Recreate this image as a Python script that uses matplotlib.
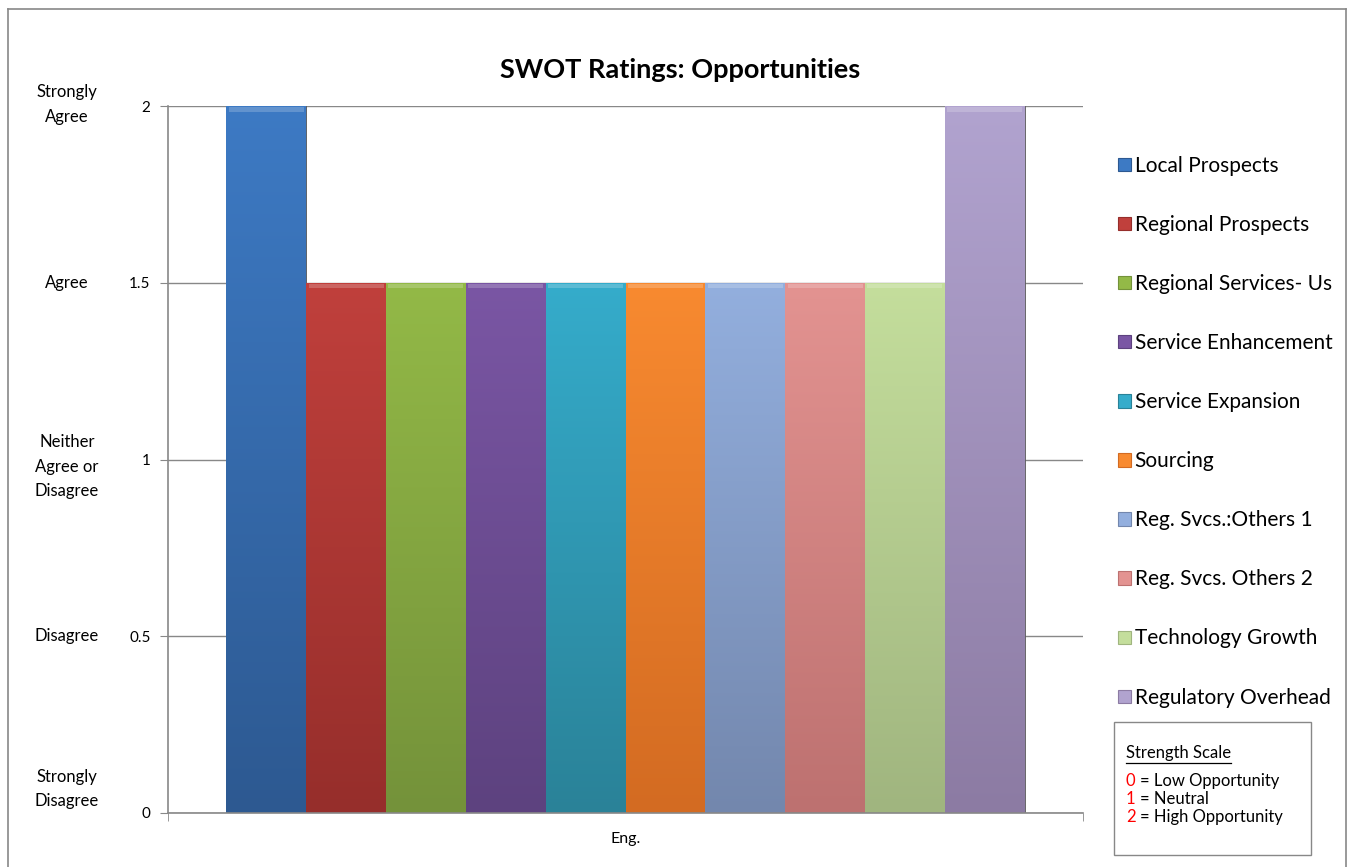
import matplotlib
matplotlib.use("Agg")
import matplotlib.pyplot as plt
import matplotlib.transforms as mtransforms
from matplotlib.colors import LinearSegmentedColormap
from matplotlib.patches import Rectangle, Patch
from matplotlib.lines import Line2D
import numpy as np

# 数据
series_names = ["Local Prospects", "Regional Prospects", "Regional Services- Us",
                "Service Enhancement", "Service Expansion", "Sourcing",
                "Reg. Svcs.:Others 1", "Reg. Svcs. Others 2", "Technology Growth",
                "Regulatory Overhead"]
series_values = [2, 1.5, 1.5, 1.5, 1.5, 1.5, 1.5, 1.5, 1.5, 2]
category = "Eng."
y_ticks = [0, 0.5, 1, 1.5, 2]
y_tick_labels = ["0", "0.5", "1", "1.5", "2"]
scale_words = ["Strongly\nDisagree", "Disagree", "Neither\nAgree or\nDisagree", "Agree", "Strongly\nAgree"]
scale_items = [("0", "= Low Opportunity"), ("1", "= Neutral"), ("2", "= High Opportunity")]

# 颜色 (上浅下深)
top_colors = ["#3D7AC4", "#C0403C", "#93B947", "#7A56A4", "#35ACCB",
              "#F88A30", "#93AFDE", "#E39391", "#C4DE9C", "#B1A3CF"]
bottom_colors = ["#2D5991", "#962E2B", "#74923A", "#5D427F", "#2A8298",
                 "#D36B22", "#7387AD", "#BD7170", "#A0B57F", "#8C7BA3"]

W, H = 1348, 867
plt.rcParams["font.family"] = ["Lato", "DejaVu Sans"]

fig = plt.figure(figsize=(W / 100, H / 100), dpi=100)


def fx(x):
    return x / W


def fy(y):
    return 1 - y / H


ax = fig.add_axes([fx(168), fy(813), fx(1083) - fx(168), fy(106) - fy(813)])

xpos = np.arange(len(series_values))
bars = ax.bar(xpos, series_values, width=1.0, color=top_colors, zorder=2,
              edgecolor="#555555", linewidth=0.6)

# 渐变填充
grad = np.linspace(1, 0, 256).reshape(-1, 1)
for b, c_top, c_bot in zip(bars, top_colors, bottom_colors):
    cmap = LinearSegmentedColormap.from_list("g", [c_bot, c_top])
    x0, h = b.get_x(), b.get_height()
    im = ax.imshow(grad, cmap=cmap, extent=(x0, x0 + b.get_width(), 0, h),
                   aspect="auto", zorder=2.5, origin="upper")
    im.set_clip_path(b)
    # 顶部高光
    ax.bar(b.get_x() + b.get_width() / 2, 0.012, bottom=h - 0.016, width=b.get_width() * 0.94,
           color="white", alpha=0.2, zorder=3, linewidth=0)

ax.set_xlim(-1.23, 10.23)
ax.set_ylim(0, 2)
ax.set_yticks(y_ticks)
ax.set_yticklabels(y_tick_labels, fontsize=11)
ax.set_xticks([4.5])
ax.set_xticklabels([category], fontsize=11.5)
ax.tick_params(axis="x", length=0, pad=14)
ax.tick_params(axis="y", length=6, color="#888888", pad=6.5)
ax.set_xticks([-1.23, 10.23], minor=True)
ax.tick_params(axis="x", which="minor", length=6, color="#888888")
ax.yaxis.grid(True, color="#888888", linewidth=1)
ax.set_axisbelow(True)
for s in ["top", "right"]:
    ax.spines[s].set_visible(False)
for s in ["left", "bottom"]:
    ax.spines[s].set_color("#888888")
    ax.spines[s].set_linewidth(1.2)
    ax.spines[s].set_zorder(4)

# 左侧文字刻度
blend = mtransforms.blended_transform_factory(fig.transFigure, ax.transData)
offsets = [0.068, 0, -0.02, 0, 0.004]
for v, w, off in zip(y_ticks, scale_words, offsets):
    ax.text(fx(67), v + off, w, transform=blend, ha="center", va="center",
            fontsize=12, linespacing=1.65, clip_on=False)

fig.text(fx(680), fy(70), "SWOT Ratings: Opportunities", ha="center", va="center",
         fontsize=19.5, fontweight="bold")

# 图例
handles = [Patch(facecolor=c, edgecolor=d, linewidth=0.8) for c, d in zip(top_colors, bottom_colors)]
fig.legend(handles, series_names, loc="upper left", bbox_to_anchor=(fx(1118), fy(156)),
           frameon=False, fontsize=15, handlelength=0.6, handleheight=0.6,
           handletextpad=0.2, labelspacing=1.875, borderpad=0, borderaxespad=0)

# 强度说明框
fig.add_artist(Rectangle((fx(1114), fy(855)), fx(1311) - fx(1114), fy(722) - fy(855),
                         transform=fig.transFigure, facecolor="white", edgecolor="#888888",
                         linewidth=1))
t = fig.text(fx(1126), fy(753), "Strength Scale", ha="left", va="center", fontsize=12)
fig.canvas.draw()
bb = t.get_window_extent().transformed(fig.transFigure.inverted())
fig.add_artist(Line2D([bb.x0, bb.x1], [bb.y0 - 0.002, bb.y0 - 0.002],
                      transform=fig.transFigure, color="black", linewidth=0.9))
for i, (num, desc) in enumerate(scale_items):
    yy = fy(781 + 18 * i)
    tn = fig.text(fx(1126), yy, num, ha="left", va="center", fontsize=12, color="red")
    fig.canvas.draw()
    nb = tn.get_window_extent().transformed(fig.transFigure.inverted())
    fig.text(nb.x1 + 0.003, yy, desc, ha="left", va="center", fontsize=12, color="black")

# 外框
for xs, ys in [([8, 8], [9, 870]), ([8, 1346], [9, 9]), ([1346, 1346], [9, 870])]:
    fig.add_artist(Line2D([fx(x) for x in xs], [fy(y) for y in ys],
                          transform=fig.transFigure, color="#888888", linewidth=1.2))

fig.savefig("out.png", dpi=100)
